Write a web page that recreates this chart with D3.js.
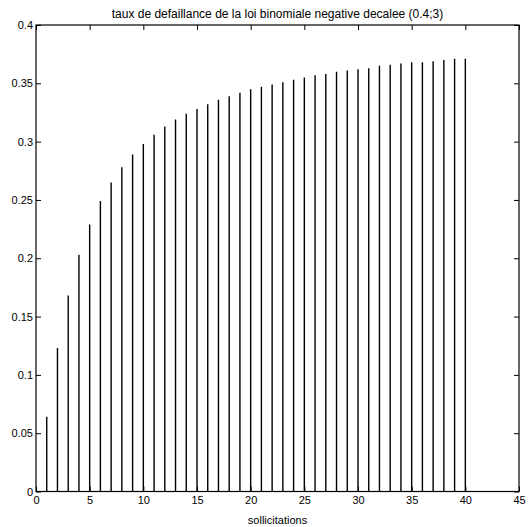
<!DOCTYPE html>
<html>
<head>
<meta charset="utf-8">
<script src="https://cdn.jsdelivr.net/npm/d3@7"></script>
<style>
  html, body { margin: 0; padding: 0; background: #fff; }
  svg text { font-family: "Liberation Sans", Arial, Helvetica, sans-serif; fill: #000; }
</style>
</head>
<body>
<svg id="chart" width="528" height="527"></svg>
<script>
const titleText = "taux de defaillance de la loi binomiale negative decalee (0.4;3)";
const xLabelText = "sollicitations";
const sollicitations = d3.range(1, 41);
const taux = [
  0.064, 0.123, 0.168, 0.203, 0.229, 0.249, 0.265, 0.278, 0.289, 0.298,
  0.306, 0.313, 0.319, 0.324, 0.328, 0.332, 0.336, 0.339, 0.342, 0.345,
  0.347, 0.349, 0.351, 0.353, 0.355, 0.357, 0.358, 0.360, 0.361, 0.362,
  0.363, 0.365, 0.366, 0.367, 0.368, 0.368, 0.369, 0.370, 0.371, 0.371
];
const xTicks = [0, 5, 10, 15, 20, 25, 30, 35, 40, 45];
const yTicks = [0, 0.05, 0.1, 0.15, 0.2, 0.25, 0.3, 0.35, 0.4];

const svg = d3.select("#chart");
const L = 36, R = 519, T = 25, B = 491.5;
const x = d3.scaleLinear().domain([0, 45]).range([L, R]);
const y = d3.scaleLinear().domain([0, 0.4]).range([B, T]);

// bars
svg.append("g").selectAll("line")
  .data(sollicitations.map((s, i) => ({ s, v: taux[i] })))
  .join("line")
  .attr("x1", d => x(d.s)).attr("x2", d => x(d.s))
  .attr("y1", y(0)).attr("y2", d => y(d.v))
  .attr("stroke", "#000").attr("stroke-width", 1.4);

const fmt = d => d3.format("")(d);
const tickLen = 5;

const gx = svg.append("g").attr("transform", `translate(0,${B})`)
  .call(d3.axisBottom(x).tickValues(xTicks).tickSize(-tickLen).tickPadding(5).tickFormat(fmt));
const gxt = svg.append("g").attr("transform", `translate(0,${T})`)
  .call(d3.axisTop(x).tickValues(xTicks).tickSize(-tickLen).tickFormat(""));
const gy = svg.append("g").attr("transform", `translate(${L},0)`)
  .call(d3.axisLeft(y).tickValues(yTicks).tickSize(-tickLen).tickPadding(3).tickFormat(fmt));
const gyr = svg.append("g").attr("transform", `translate(${R},0)`)
  .call(d3.axisRight(y).tickValues(yTicks).tickSize(-tickLen).tickFormat(""));

[gx, gxt, gy, gyr].forEach(g => {
  g.select(".domain").remove();
  g.selectAll(".tick line").attr("stroke", "#000").attr("stroke-width", 1);
  g.selectAll("text").style("font-size", "11px").attr("fill", "#000");
});
gx.selectAll("text").attr("dy", "0.71em");

svg.append("rect").attr("x", L).attr("y", T).attr("width", R - L).attr("height", B - T)
  .attr("fill", "none").attr("stroke", "#000").attr("stroke-width", 1.2);

svg.append("text").attr("x", (L + R) / 2).attr("y", 17.5).attr("text-anchor", "middle")
  .style("font-size", "12px").text(titleText);
svg.append("text").attr("x", (L + R) / 2).attr("y", 524).attr("text-anchor", "middle")
  .style("font-size", "11px").text(xLabelText);
</script>
</body>
</html>
